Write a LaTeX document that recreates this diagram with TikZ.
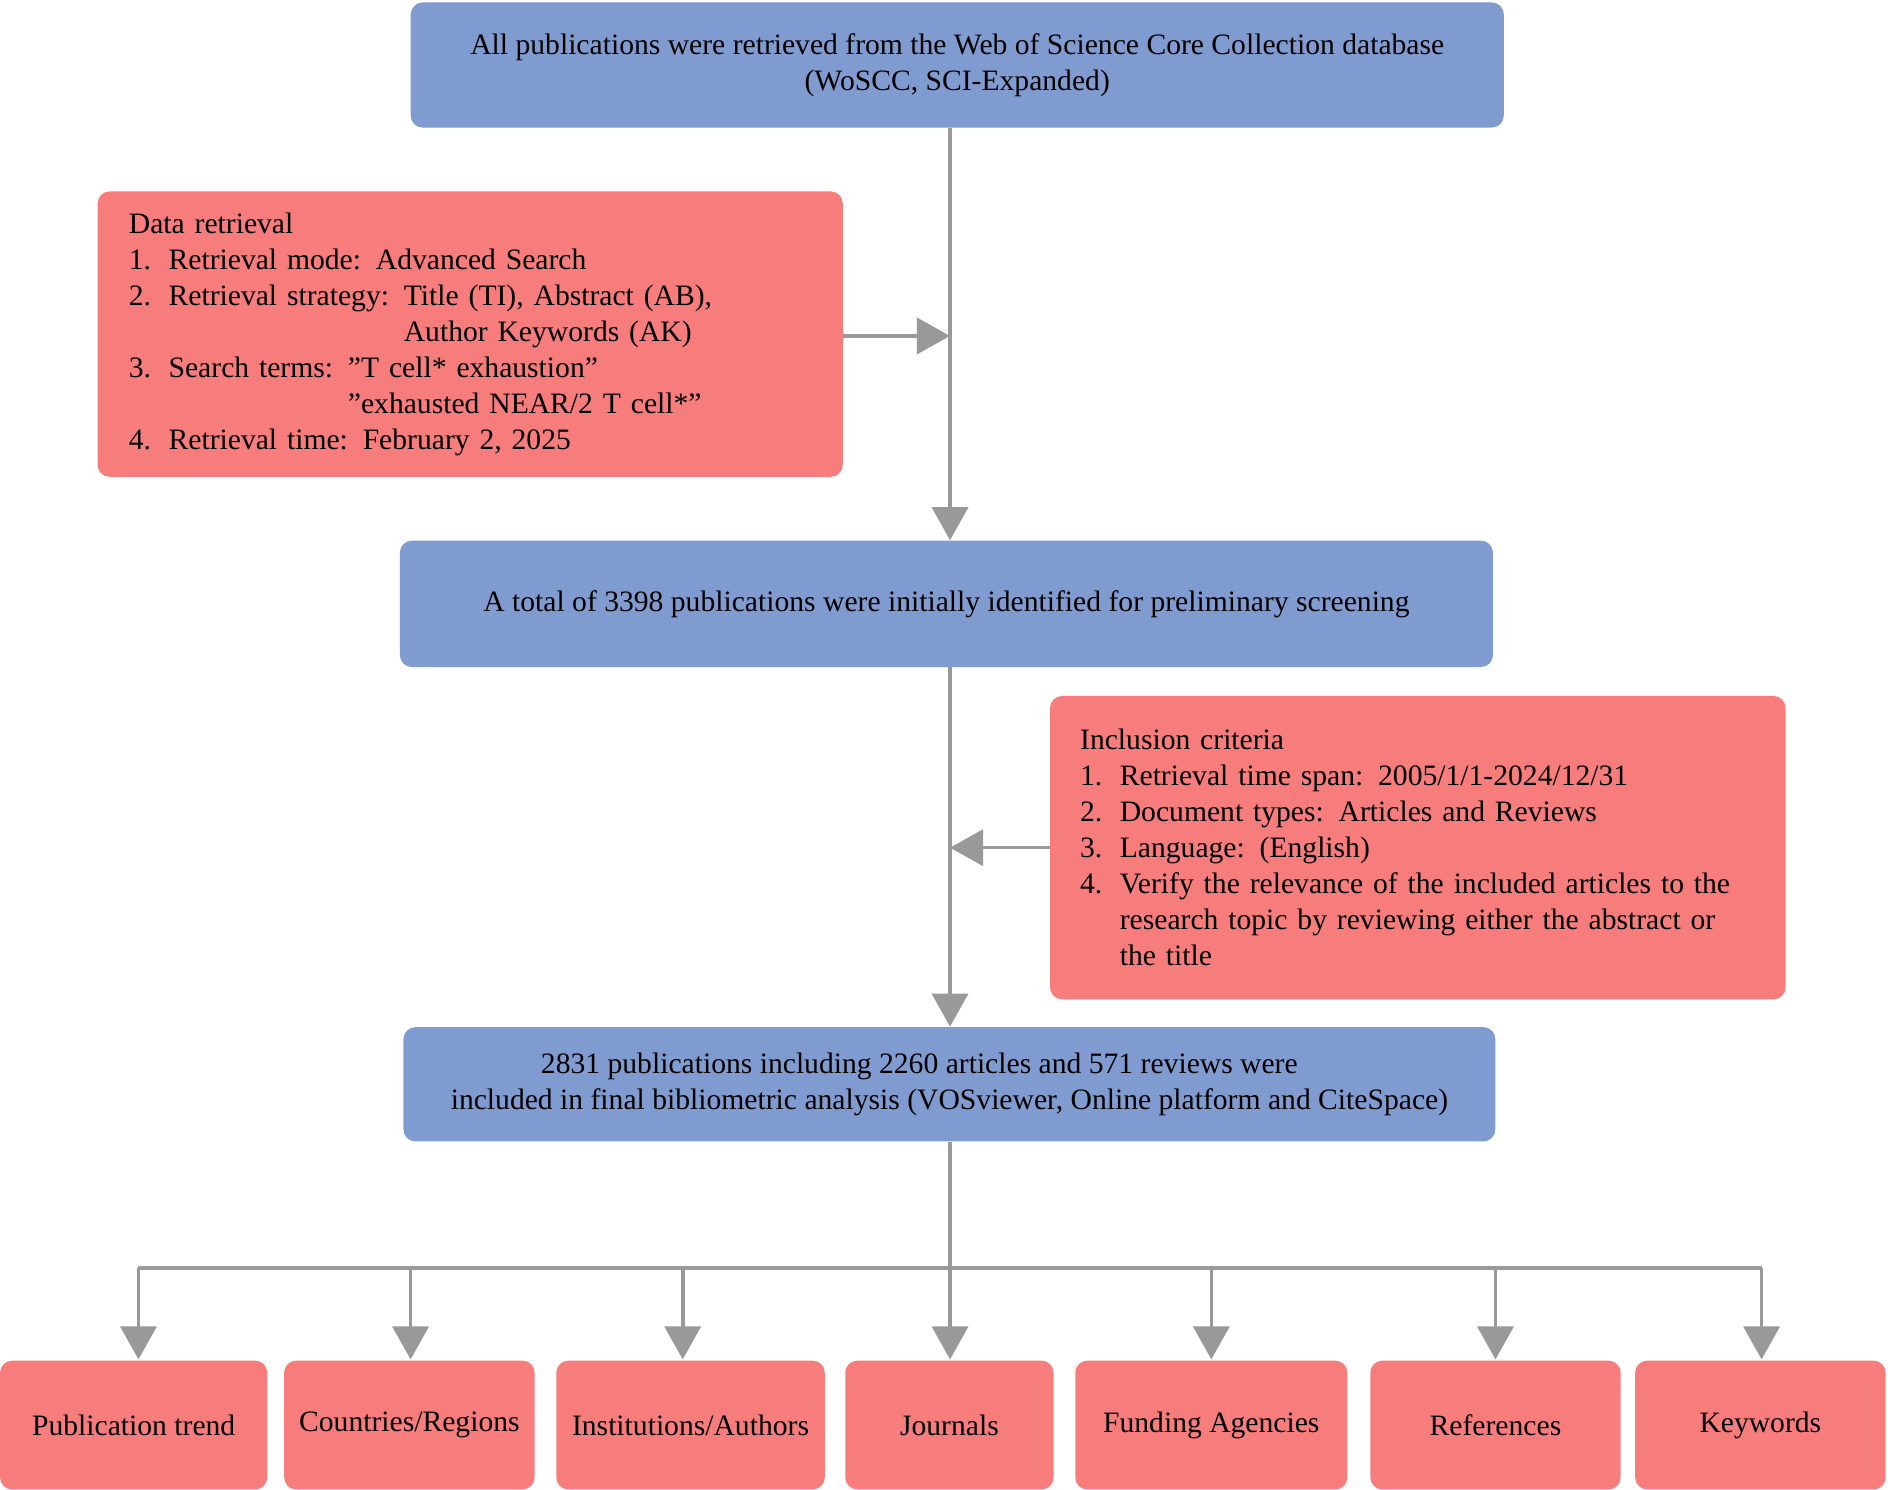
\documentclass[tikz,border=0pt]{standalone}
\usepackage{fontspec}
\setmainfont{Liberation Serif}
\usetikzlibrary{arrows.meta}
\definecolor{bbox}{HTML}{7F9BD0}
\definecolor{rbox}{HTML}{F67D7B}
\definecolor{ln}{HTML}{999999}
\newcommand{\itm}[1]{\makebox[0.66cm][l]{#1}}
\begin{document}
\begin{tikzpicture}[x=0.02cm,y=-0.02cm,
  base/.style={rounded corners=0.2cm,inner sep=0pt,font=\fontsize{14}{17}\selectfont},
  bluebox/.style={base,fill=bbox,align=center},
  redbox/.style={base,fill=rbox,align=left,inner xsep=0.52cm},
  leaf/.style={base,fill=rbox,align=center,minimum height=2.14cm},
  conn/.style={ln,line width=0.06cm},
  arr/.style={conn,-{Triangle[width=0.6cm,length=0.55cm]}}]
\useasboundingbox (0,0) rectangle (1568,1237);
\node[bluebox,minimum width=18.16cm,minimum height=2.08cm] (top) at (795,54)
 {All publications were retrieved from the Web of Science Core Collection database\\(WoSCC, SCI-Expanded)};
\node[redbox,minimum width=12.38cm,minimum height=4.74cm,text width=11.34cm] (dr) at (390.5,277.5)
 {Data retrieval\\
 \itm{1.}Retrieval mode: Advanced Search\\
 \itm{2.}Retrieval strategy: Title (TI), Abstract (AB),\\
 \itm{}\phantom{Retrieval strategy: }Author Keywords (AK)\\
 \itm{3.}Search terms: "T cell* exhaustion"\\
 \itm{}\phantom{Search terms: }"exhausted NEAR/2 T cell*"\\
 \itm{4.}Retrieval time: February 2, 2025};
\node[bluebox,minimum width=18.16cm,minimum height=2.1cm] (mid) at (786,501.5)
 {A total of 3398 publications were initially identified for preliminary screening};
\node[redbox,minimum width=12.22cm,minimum height=5.04cm,text width=11.22cm,inner xsep=0.42cm] (inc) at (1177.5,704)
 {Inclusion criteria\\
 \itm{1.}Retrieval time span: 2005/1/1-2024/12/31\\
 \itm{2.}Document types: Articles and Reviews\\
 \itm{3.}Language: (English)\\
 \itm{4.}Verify the relevance of the included articles to the\\
 \itm{}research topic by reviewing either the abstract or\\
 \itm{}the title};
\node[bluebox,minimum width=18.14cm,minimum height=1.9cm] (fin) at (788.5,900.5)
 {\hspace*{-1cm}2831 publications including 2260 articles and 571 reviews were\\included in final bibliometric analysis (VOSviewer, Online platform and CiteSpace)};
\node[leaf,minimum width=4.44cm] (l1) at (111,1183.5) {Publication trend};
\node[leaf,minimum width=4.16cm] (l2) at (340,1183.5) {Countries/Regions};
\node[leaf,minimum width=4.46cm] (l3) at (573.5,1183.5) {Institutions/Authors};
\node[leaf,minimum width=3.46cm] (l4) at (788.5,1183.5) {Journals};
\node[leaf,minimum width=4.52cm] (l5) at (1006,1183.5) {Funding Agencies};
\node[leaf,minimum width=4.16cm] (l6) at (1242,1183.5) {References};
\node[leaf,minimum width=4.16cm] (l7) at (1462,1183.5) {Keywords};
\coordinate (j1) at (789,279);
\coordinate (j2) at (789,704);
\coordinate (bus) at (789,1053);
\draw[arr] (top.south -| j1) -- (mid.north -| j1);
\draw[arr] (dr.east |- j1) -- (j1);
\draw[arr] (mid.south -| j2) -- (fin.north -| j2);
\draw[arr] (inc.west) -- (j2);
\draw[conn] (fin.south -| bus) -- (bus);
\draw[conn] (115,1053) -- (1463,1053);
\foreach \n/\x in {l1/115,l2/341,l3/567,l4/789,l5/1006,l6/1242,l7/1463}
  \draw[arr] (\x,1053) -- (\x,1129);
\end{tikzpicture}
\end{document}
